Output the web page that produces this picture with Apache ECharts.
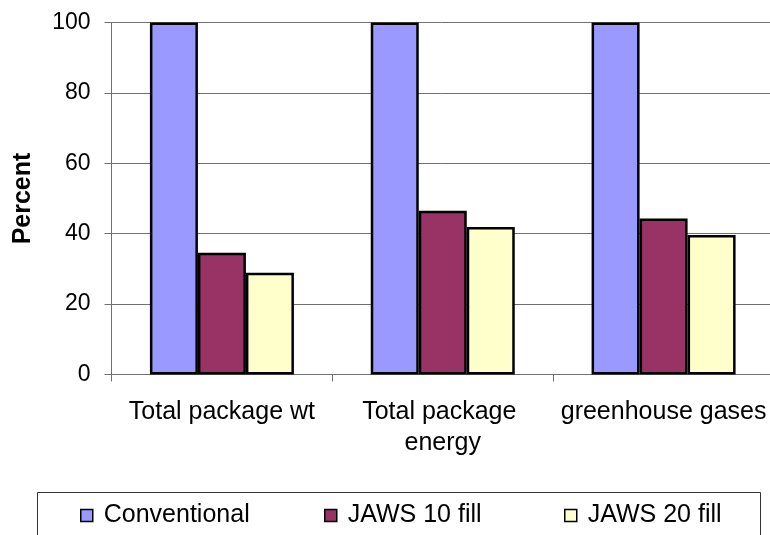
<!DOCTYPE html>
<html>
<head>
<meta charset="utf-8">
<script src="https://cdn.jsdelivr.net/npm/echarts@6/dist/echarts.min.js"></script>
<style>html,body{margin:0;padding:0;background:#fff;}#c{width:770px;height:535px;}</style>
</head>
<body>
<div id="c"></div>
<script>
var categories = ['Total package wt', 'Total package energy', 'greenhouse gases'];
var seriesNames = ['Conventional', 'JAWS 10 fill', 'JAWS 20 fill'];
var conventional = [100, 100, 100];
var jaws10 = [34.6, 46.5, 44.3];
var jaws20 = [28.9, 41.9, 39.6];
var yTicks = [0, 20, 40, 60, 80, 100];
var colors = ['#9999FF', '#993366', '#FFFFCC'];
var FONT = '"Liberation Sans", Arial, sans-serif';

var chart = echarts.init(document.getElementById('c'), null, {renderer: 'canvas'});
var values = [conventional, jaws10, jaws20];
var legendLefts = [80, 324, 564];

var option = {
  animation: false,
  backgroundColor: '#ffffff',
  grid: {left: 111.5, top: 22.5, right: -4, bottom: 160.5, containLabel: false, outerBoundsMode: 'none'},
  legend: seriesNames.map(function (n, i) {
    return {
      data: [n], left: legendLefts[i], top: 503, padding: 0,
      itemWidth: 12, itemHeight: 12,
      icon: 'rect',
      itemStyle: {borderColor: '#000', borderWidth: 1.5},
      textStyle: {fontFamily: FONT, fontSize: 25, color: '#000', padding: [0, 0, 0, 6]},
      selectedMode: false
    };
  }),
  graphic: [{
    type: 'rect', silent: true,
    shape: {x: 37.5, y: 492.5, width: 723, height: 60},
    style: {fill: 'none', stroke: '#333', lineWidth: 1}
  }],
  xAxis: {
    type: 'category', data: categories,
    axisLine: {lineStyle: {color: '#707070', width: 1}},
    axisTick: {show: true, length: 7, alignWithLabel: false, lineStyle: {color: '#707070'}},
    axisLabel: {interval: 0, margin: 22, fontFamily: FONT, fontSize: 25, color: '#000',
      width: 215, overflow: 'break', lineHeight: 31},
    splitLine: {show: false}
  },
  yAxis: {
    type: 'value', min: yTicks[0], max: yTicks[yTicks.length - 1], interval: 20,
    name: 'Percent', nameLocation: 'middle', nameGap: 76, nameRotate: 90,
    nameTextStyle: {fontFamily: FONT, fontSize: 25, fontWeight: 'bold', color: '#000'},
    axisLine: {show: true, lineStyle: {color: '#707070', width: 1}},
    axisTick: {show: true, length: 7, inside: false, lineStyle: {color: '#707070'}},
    axisLabel: {margin: 21, fontFamily: FONT, fontSize: 23, color: '#000'},
    splitLine: {show: true, lineStyle: {color: '#707070', width: 1, type: 'solid'}}
  },
  series: seriesNames.map(function (n, i) {
    return {
      name: n, type: 'bar', data: values[i], barWidth: 48, barGap: '0%',
      itemStyle: {color: colors[i], borderColor: '#000', borderWidth: 2.5},
      emphasis: {disabled: true}
    };
  })
};
chart.setOption(option);
</script>
</body>
</html>
